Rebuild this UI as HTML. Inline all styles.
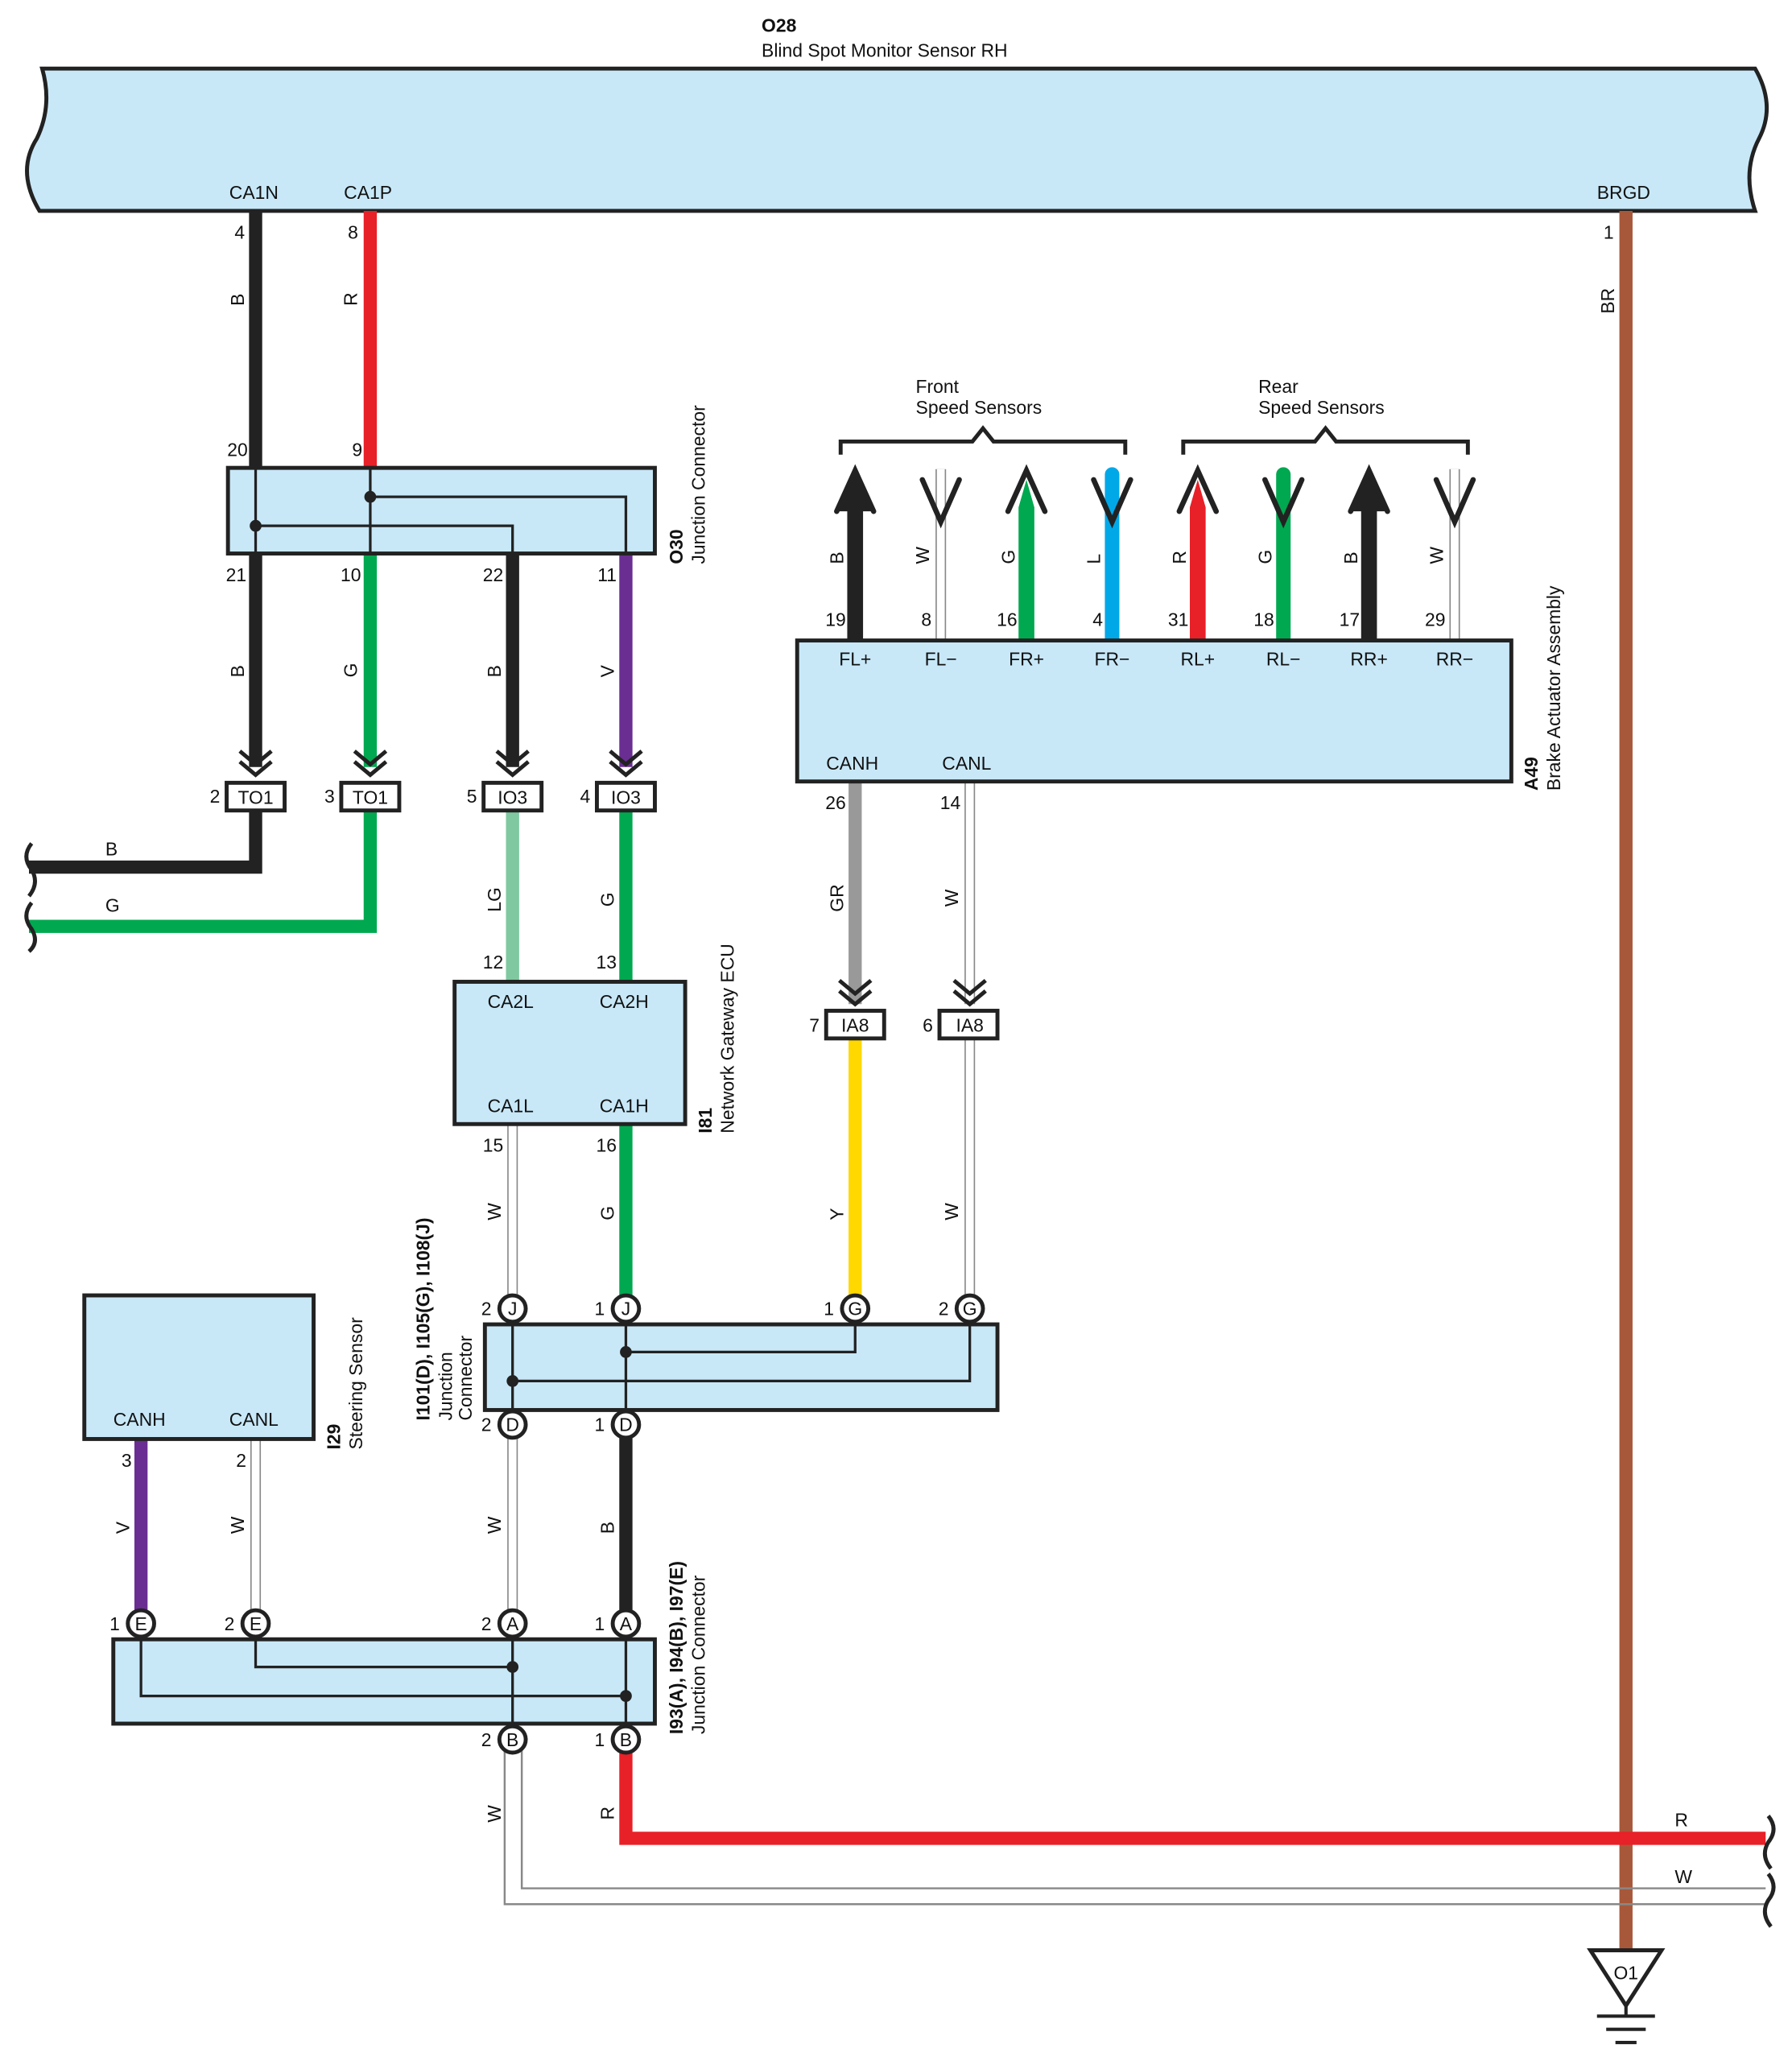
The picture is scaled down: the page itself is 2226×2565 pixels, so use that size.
<!DOCTYPE html><html><head><style>body{margin:0;background:#fff}svg{display:block}text{font-family:"Liberation Sans",sans-serif;font-size:14px;fill:#111}</style></head><body>
<svg width="2226" height="2565" viewBox="0 0 1360 1567" xmlns="http://www.w3.org/2000/svg">
<path d="M32,52 L1332,52 Q1348,80 1335,105 Q1322,130 1332,160 L30,160 Q12,130 28,105 Q40,80 32,52Z" fill="#c8e8f8" stroke="#222" stroke-width="3"/>
<text x="578" y="24" font-weight="bold">O28</text><text x="578" y="43">Blind Spot Monitor Sensor RH</text>
<text x="174" y="151">CA1N</text><text x="261" y="151">CA1P</text><text x="1212" y="151">BRGD</text>
<text x="178" y="181">4</text><text x="264" y="181">8</text><text x="1217" y="181">1</text>
<g stroke-linecap="butt" fill="none">
<line x1="194" y1="160" x2="194" y2="355" stroke="#222" stroke-width="10"/>
<line x1="281" y1="160" x2="281" y2="355" stroke="#e82028" stroke-width="10"/>
<line x1="1234" y1="160" x2="1234" y2="1482" stroke="#a8583a" stroke-width="10"/>
<line x1="194" y1="420" x2="194" y2="582" stroke="#222" stroke-width="10"/>
<line x1="281" y1="420" x2="281" y2="582" stroke="#00a850" stroke-width="10"/>
<line x1="389" y1="420" x2="389" y2="582" stroke="#222" stroke-width="10"/>
<line x1="475" y1="420" x2="475" y2="582" stroke="#6a2e92" stroke-width="10"/>
<path d="M194,615 V658 H22" stroke="#222" stroke-width="10"/>
<path d="M281,615 V703 H22" stroke="#00a850" stroke-width="10"/>
<line x1="389" y1="615" x2="389" y2="745" stroke="#80c8a0" stroke-width="10"/>
<line x1="475" y1="615" x2="475" y2="745" stroke="#00a850" stroke-width="10"/>
<line x1="475" y1="853" x2="475" y2="985" stroke="#00a850" stroke-width="10"/>
<line x1="649" y1="593" x2="649" y2="762" stroke="#999" stroke-width="10"/>
<line x1="649" y1="788" x2="649" y2="985" stroke="#ffd800" stroke-width="10"/>
<line x1="475" y1="1090" x2="475" y2="1224" stroke="#222" stroke-width="10"/>
<line x1="107" y1="1092" x2="107" y2="1224" stroke="#6a2e92" stroke-width="10"/>
<path d="M475,1328 V1395 H1340" stroke="#e82028" stroke-width="10"/>
<g stroke="#888" stroke-width="8"><line x1="389" y1="853" x2="389" y2="985"/><line x1="736" y1="593" x2="736" y2="762"/><line x1="736" y1="788" x2="736" y2="985"/><line x1="389" y1="1090" x2="389" y2="1224"/><line x1="194" y1="1092" x2="194" y2="1224"/><line x1="714" y1="356" x2="714" y2="486"/><line x1="1104" y1="356" x2="1104" y2="486"/></g>
<g stroke="#fff" stroke-width="6"><line x1="389" y1="853" x2="389" y2="985"/><line x1="736" y1="593" x2="736" y2="762"/><line x1="736" y1="788" x2="736" y2="985"/><line x1="389" y1="1090" x2="389" y2="1224"/><line x1="194" y1="1092" x2="194" y2="1224"/><line x1="714" y1="356" x2="714" y2="486"/><line x1="1104" y1="356" x2="1104" y2="486"/></g>
<path d="M383,1328 V1445 H1340 M396,1328 V1433 H1340" stroke="#888" stroke-width="1.5"/>
<line x1="844" y1="360" x2="844" y2="486" stroke="#00a8e8" stroke-width="11" stroke-linecap="round"/>
<line x1="974" y1="360" x2="974" y2="486" stroke="#00a850" stroke-width="11" stroke-linecap="round"/>
</g>
<path d="M643,486 V378 L649,360 L655,378 V486Z" fill="#222"/>
<path d="M773,486 V385 L779,364 L785,385 V486Z" fill="#00a850"/>
<path d="M903,486 V385 L909,364 L915,385 V486Z" fill="#e82028"/>
<path d="M1033,486 V378 L1039,360 L1045,378 V486Z" fill="#222"/>
<path d="M635,388 L649,357 L663,388Z M1025,388 L1039,357 L1053,388Z" fill="#222"/>
<g stroke="#222" stroke-width="4" fill="none" stroke-linecap="round">
<path d="M635,388 L649,357 L663,388 M765,388 L779,357 L793,388 M895,388 L909,357 L923,388 M1025,388 L1039,357 L1053,388"/>
<path d="M700,364 L714,396 L728,364 M830,364 L844,396 L858,364 M960,364 L974,396 L988,364 M1090,364 L1104,396 L1118,364"/>
</g>
<g stroke="#222" stroke-width="3" fill="none">
<path d="M638,345 V335 H738 L746,325 L754,335 H854 V345 M898,345 V335 H998 L1006,325 L1014,335 H1114 V345"/>
<path d="M182,570 L194,580 L206,570 M182,578 L194,588 L206,578 M269,570 L281,580 L293,570 M269,578 L281,588 L293,578 M377,570 L389,580 L401,570 M377,578 L389,588 L401,578 M463,570 L475,580 L487,570 M463,578 L475,588 L487,578 M637,744 L649,754 L661,744 M637,752 L649,762 L661,752 M724,744 L736,754 L748,744 M724,752 L736,762 L748,752"/>
<path d="M24,640 Q16,650 24,660 Q30,670 22,680 M24,685 Q16,695 24,705 Q30,715 22,722 M1342,1378 Q1350,1388 1342,1398 Q1336,1408 1344,1418 M1342,1422 Q1350,1432 1342,1442 Q1336,1452 1344,1462"/>
</g>
<g fill="#c8e8f8" stroke="#222" stroke-width="3">
<rect x="173" y="355" width="324" height="65"/>
<rect x="345" y="745" width="175" height="108"/>
<rect x="605" y="486" width="542" height="107"/>
<rect x="368" y="1005" width="389" height="65"/>
<rect x="64" y="983" width="174" height="109"/>
<rect x="86" y="1244" width="411" height="64"/>
</g>
<g stroke="#222" stroke-width="2" fill="none">
<path d="M194,355 V420 M194,399 H389 V420 M281,355 V420 M281,377 H475 V420"/>
<path d="M389,1005 V1070 M475,1005 V1070 M649,1005 V1026 H475 M736,1005 V1048 H389"/>
<path d="M107,1244 V1287 H475 M194,1244 V1265 H389 M389,1244 V1308 M475,1244 V1308"/>
</g>
<g fill="#222"><circle cx="194" cy="399" r="4.5"/><circle cx="281" cy="377" r="4.5"/><circle cx="475" cy="1026" r="4.5"/><circle cx="389" cy="1048" r="4.5"/><circle cx="389" cy="1265" r="4.5"/><circle cx="475" cy="1287" r="4.5"/></g>
<g fill="#fff" stroke="#222" stroke-width="3">
<rect x="172" y="594" width="44" height="21"/><rect x="259" y="594" width="44" height="21"/><rect x="367" y="594" width="44" height="21"/><rect x="453" y="594" width="44" height="21"/>
<rect x="627" y="767" width="44" height="21"/><rect x="713" y="767" width="44" height="21"/>
<circle cx="389" cy="993" r="10"/><circle cx="475" cy="993" r="10"/><circle cx="649" cy="993" r="10"/><circle cx="736" cy="993" r="10"/>
<circle cx="389" cy="1081" r="10"/><circle cx="475" cy="1081" r="10"/>
<circle cx="107" cy="1232" r="10"/><circle cx="194" cy="1232" r="10"/><circle cx="389" cy="1232" r="10"/><circle cx="475" cy="1232" r="10"/>
<circle cx="389" cy="1320" r="10"/><circle cx="475" cy="1320" r="10"/>
</g>
<g text-anchor="middle">
<text x="194" y="610">TO1</text><text x="281" y="610">TO1</text><text x="389" y="610">IO3</text><text x="475" y="610">IO3</text>
<text x="649" y="783">IA8</text><text x="736" y="783">IA8</text>
<text x="389" y="998">J</text><text x="475" y="998">J</text><text x="649" y="998">G</text><text x="736" y="998">G</text>
<text x="389" y="1086">D</text><text x="475" y="1086">D</text>
<text x="107" y="1237">E</text><text x="194" y="1237">E</text><text x="389" y="1237">A</text><text x="475" y="1237">A</text>
<text x="389" y="1325">B</text><text x="475" y="1325">B</text>
<text x="649" y="505">FL+</text><text x="714" y="505">FL−</text><text x="779" y="505">FR+</text><text x="844" y="505">FR−</text><text x="909" y="505">RL+</text><text x="974" y="505">RL−</text><text x="1039" y="505">RR+</text><text x="1104" y="505">RR−</text>
</g>
<g text-anchor="end">
<text x="188" y="346">20</text><text x="275" y="346">9</text>
<text x="187" y="441">21</text><text x="274" y="441">10</text><text x="382" y="441">22</text><text x="468" y="441">11</text>
<text x="167" y="609">2</text><text x="254" y="609">3</text><text x="362" y="609">5</text><text x="448" y="609">4</text>
<text x="382" y="735">12</text><text x="468" y="735">13</text><text x="382" y="874">15</text><text x="468" y="874">16</text>
<text x="642" y="475">19</text><text x="707" y="475">8</text><text x="772" y="475">16</text><text x="837" y="475">4</text><text x="902" y="475">31</text><text x="967" y="475">18</text><text x="1032" y="475">17</text><text x="1097" y="475">29</text>
<text x="642" y="614">26</text><text x="729" y="614">14</text>
<text x="622" y="783">7</text><text x="708" y="783">6</text>
<text x="373" y="998">2</text><text x="459" y="998">1</text><text x="633" y="998">1</text><text x="720" y="998">2</text>
<text x="373" y="1086">2</text><text x="459" y="1086">1</text>
<text x="100" y="1113">3</text><text x="187" y="1113">2</text>
<text x="91" y="1237">1</text><text x="178" y="1237">2</text><text x="373" y="1237">2</text><text x="459" y="1237">1</text>
<text x="373" y="1325">2</text><text x="459" y="1325">1</text>
</g>
<text x="370" y="765">CA2L</text><text x="455" y="765">CA2H</text><text x="370" y="844">CA1L</text><text x="455" y="844">CA1H</text>
<text x="627" y="584">CANH</text><text x="715" y="584">CANL</text>
<text x="86" y="1082">CANH</text><text x="174" y="1082">CANL</text>
<text x="695" y="298">Front</text><text x="695" y="314">Speed Sensors</text>
<text x="955" y="298">Rear</text><text x="955" y="314">Speed Sensors</text>
<text x="80" y="649">B</text><text x="80" y="692">G</text>
<text x="1271" y="1386">R</text><text x="1271" y="1429">W</text>
<g>
<text transform="translate(185,232) rotate(-90)">B</text><text transform="translate(271,232) rotate(-90)">R</text><text transform="translate(1225,238) rotate(-90)">BR</text>
<text transform="translate(185,514) rotate(-90)">B</text><text transform="translate(271,514) rotate(-90)">G</text><text transform="translate(380,514) rotate(-90)">B</text><text transform="translate(466,514) rotate(-90)">V</text>
<text transform="translate(380,692) rotate(-90)">LG</text><text transform="translate(466,688) rotate(-90)">G</text>
<text transform="translate(380,926) rotate(-90)">W</text><text transform="translate(466,926) rotate(-90)">G</text>
<text transform="translate(640,428) rotate(-90)">B</text><text transform="translate(705,428) rotate(-90)">W</text><text transform="translate(770,428) rotate(-90)">G</text><text transform="translate(835,428) rotate(-90)">L</text><text transform="translate(900,428) rotate(-90)">R</text><text transform="translate(965,428) rotate(-90)">G</text><text transform="translate(1030,428) rotate(-90)">B</text><text transform="translate(1095,428) rotate(-90)">W</text>
<text transform="translate(640,692) rotate(-90)">GR</text><text transform="translate(727,688) rotate(-90)">W</text>
<text transform="translate(640,926) rotate(-90)">Y</text><text transform="translate(727,926) rotate(-90)">W</text>
<text transform="translate(380,1164) rotate(-90)">W</text><text transform="translate(466,1164) rotate(-90)">B</text>
<text transform="translate(98,1164) rotate(-90)">V</text><text transform="translate(185,1164) rotate(-90)">W</text>
<text transform="translate(380,1383) rotate(-90)">W</text><text transform="translate(466,1381) rotate(-90)">R</text>
<text transform="translate(518,428) rotate(-90)" font-weight="bold">O30</text><text transform="translate(535,428) rotate(-90)">Junction Connector</text>
<text transform="translate(540,860) rotate(-90)" font-weight="bold">I81</text><text transform="translate(557,860) rotate(-90)">Network Gateway ECU</text>
<text transform="translate(1167,600) rotate(-90)" font-weight="bold">A49</text><text transform="translate(1184,600) rotate(-90)">Brake Actuator Assembly</text>
<text transform="translate(258,1100) rotate(-90)" font-weight="bold">I29</text><text transform="translate(275,1100) rotate(-90)">Steering Sensor</text>
<text transform="translate(326,1078) rotate(-90)" font-weight="bold">I101(D), I105(G), I108(J)</text><text transform="translate(343,1078) rotate(-90)">Junction</text><text transform="translate(358,1078) rotate(-90)">Connector</text>
<text transform="translate(518,1316) rotate(-90)" font-weight="bold">I93(A), I94(B), I97(E)</text><text transform="translate(535,1316) rotate(-90)">Junction Connector</text>
</g>
<path d="M1207,1480 H1261 L1234,1522 Z" fill="#fff" stroke="#222" stroke-width="3"/>
<text x="1234" y="1502" text-anchor="middle">O1</text>
<path d="M1234,1522 V1530 M1212,1530 H1256 M1219,1540 H1249 M1226,1550 H1242" stroke="#222" stroke-width="2.5"/>
</svg></body></html>
